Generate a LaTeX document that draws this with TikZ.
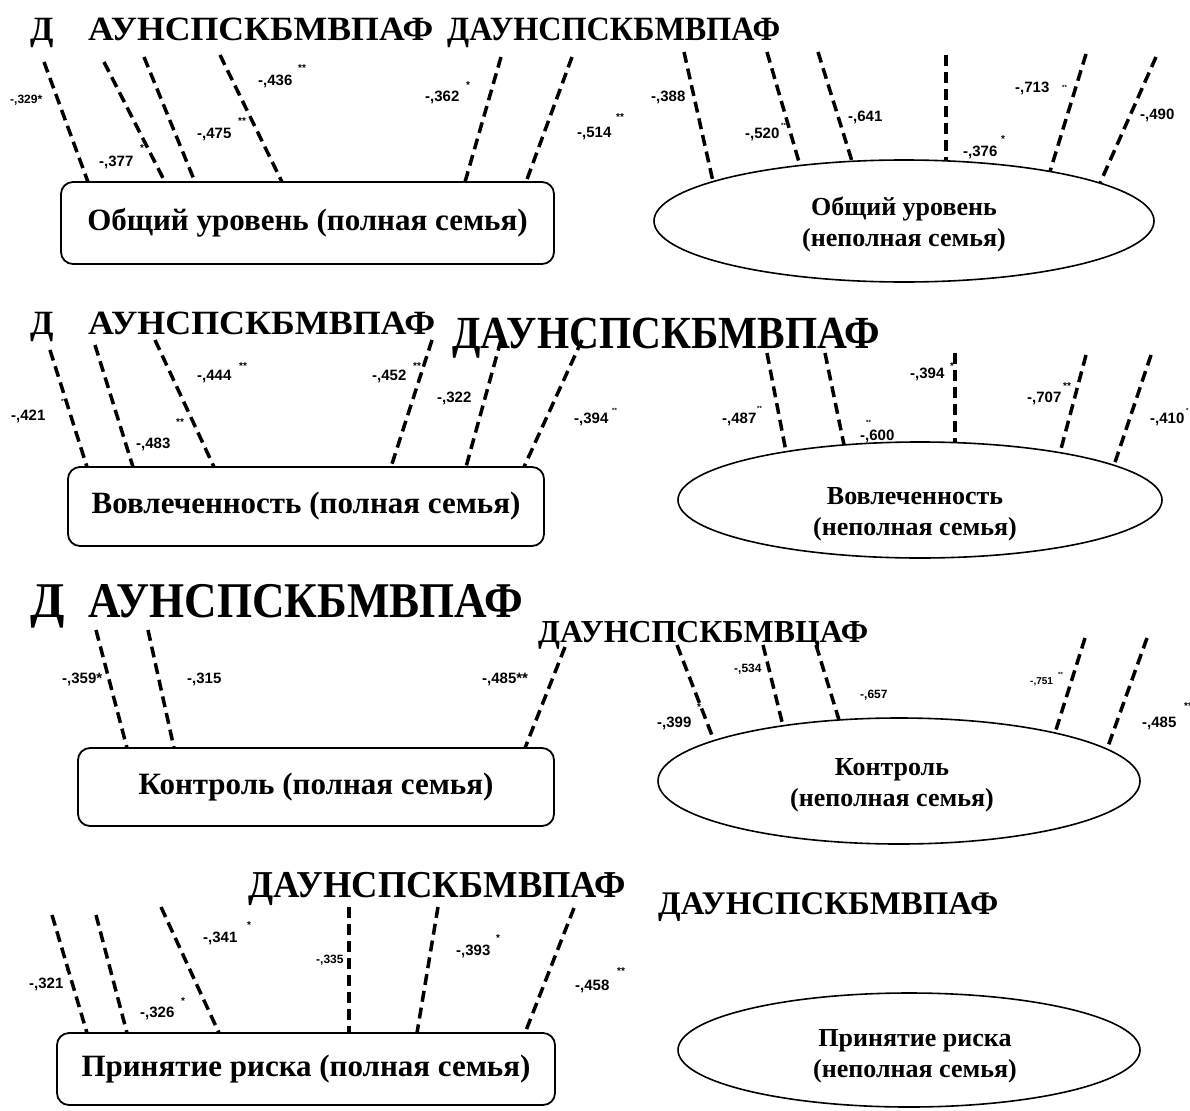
\documentclass[tikz,border=0pt]{standalone}
\usepackage{fontspec}
\usepackage{graphicx}
\setmainfont{Liberation Serif}
\newfontfamily\arialf{Liberation Sans}
\usetikzlibrary{shapes.geometric}
\newcommand{\hdr}[3]{\resizebox{#1pt}{\height}{\fontsize{#2}{#2}\selectfont\bfseries #3}}
\newcommand{\ecoord}[6]{\coordinate (#1) at ({#6},{#3-#5*sqrt(1-((#6-#2)/#4)^2)});}
\tikzset{
  dl/.style={line width=3.5pt, dash pattern=on 11pt off 6pt},
  bx/.style={draw, line width=1.8pt, rounded corners=12pt, inner sep=0, outer sep=0, font=\bfseries\fontsize{31}{31}\selectfont},
  el/.style={draw, ellipse, line width=1.6pt, inner sep=0, outer sep=0},
  etx/.style={align=center, inner sep=0, font=\bfseries\fontsize{26}{31}\selectfont},
  lb/.style={anchor=base west, inner sep=0, font=\arialf\bfseries\fontsize{15}{15}\selectfont},
  lbs/.style={anchor=base west, inner sep=0, font=\arialf\bfseries\fontsize{12}{12}\selectfont},
  lbt/.style={anchor=base west, inner sep=0, font=\arialf\bfseries\fontsize{10}{10}\selectfont},
  st/.style={anchor=base west, inner sep=0, font=\arialf\bfseries\fontsize{10}{10}\selectfont},
  stt/.style={anchor=base west, inner sep=0, font=\arialf\bfseries\fontsize{6}{6}\selectfont},
  hd/.style={anchor=base west, inner sep=0},
}
\begin{document}
\begin{tikzpicture}[x=1pt,y=-1pt]
\fill[white] (0,0) rectangle (1190,1110);
\useasboundingbox (0,0) rectangle (1190,1110);

% ---------------- Row 1 ----------------
\node[hd] (h1a) at (30,41) {\fontsize{34}{34}\selectfont\bfseries Д};
\node[hd] (h1b) at (88,41) {\hdr{345}{34}{АУНСПСКБМВПАФ}};
\node[hd] (h1c) at (447,41) {\hdr{333}{34}{ДАУНСПСКБМВПАФ}};

\node[bx, minimum width=493pt, minimum height=82pt] (B1) at (307.5,223) {Общий уровень (полная семья)};
\node[el, minimum width=500pt, minimum height=122pt] (E1) at (904,221) {};
\node[etx] (E1t) at (904,224.5) {Общий уровень\\(неполная семья)};

\coordinate (a1) at (44,62);  \coordinate (a2) at (104,62); \coordinate (a3) at (144,57);
\coordinate (a4) at (220,55); \coordinate (a5) at (501,57); \coordinate (a6) at (572,57);
\draw[dl] (a1) -- (88,0 |- B1.north);
\draw[dl] (a2) -- (165,0 |- B1.north);
\draw[dl] (a3) -- (195,0 |- B1.north);
\draw[dl] (a4) -- (282,0 |- B1.north);
\draw[dl] (a5) -- (465,0 |- B1.north);
\draw[dl] (a6) -- (526,0 |- B1.north);

\coordinate (b1) at (684,52); \coordinate (b2) at (767,52); \coordinate (b3) at (818,52);
\coordinate (b4) at (946,55); \coordinate (b5) at (1086,54); \coordinate (b6) at (1156,57);
\ecoord{e1a}{904}{221}{250}{61}{713}
\ecoord{e1b}{904}{221}{250}{61}{800}
\ecoord{e1c}{904}{221}{250}{61}{852}
\ecoord{e1d}{904}{221}{250}{61}{946}
\ecoord{e1e}{904}{221}{250}{61}{1050}
\ecoord{e1f}{904}{221}{250}{61}{1100}
\draw[dl] (b1) -- (e1a); \draw[dl] (b2) -- (e1b); \draw[dl] (b3) -- (e1c);
\draw[dl] (b4) -- (e1d); \draw[dl] (b5) -- (e1e); \draw[dl] (b6) -- (e1f);

\node[lbs] (l101) at (10,104) {-,329*};
\node[lb] (l102) at (99,167) {-,377};   \node[st] (s102) at (140,152) {*};
\node[lb] (l103) at (197,139) {-,475};  \node[st] (s103) at (238,125) {**};
\node[lb] (l104) at (258,86) {-,436};   \node[st] (s104) at (298,72) {**};
\node[lb] (l105) at (425,102) {-,362};  \node[st] (s105) at (466,89) {*};
\node[lb] (l106) at (577,138) {-,514};  \node[st] (s106) at (616,121) {**};
\node[lb] (l107) at (651,102) {-,388};  \node[stt] (s107) at (690,92) {*};
\node[lb] (l108) at (745,139) {-,520};  \node[stt] (s108) at (781,128) {**};
\node[lb] (l109) at (848,122) {-,641};
\node[lb] (l110) at (963,157) {-,376};  \node[st] (s110) at (1001,143) {*};
\node[lb] (l111) at (1015,93) {-,713};  \node[stt] (s111) at (1062,90) {**};
\node[lb] (l112) at (1140,120) {-,490};

% ---------------- Row 2 ----------------
\node[hd] (h2a) at (30,334) {\fontsize{34}{34}\selectfont\bfseries Д};
\node[hd] (h2b) at (88,334) {\hdr{347}{34}{АУНСПСКБМВПАФ}};
\node[hd] (h2c) at (452,348) {\hdr{428}{46}{ДАУНСПСКБМВПАФ}};

\node[bx, minimum width=476pt, minimum height=79pt] (B2) at (306,506.5) {Вовлеченность (полная семья)};
\node[el, minimum width=484pt, minimum height=116pt] (E2) at (920,500) {};
\node[etx] (E2t) at (915,514.5) {Вовлеченность\\(неполная семья)};

\coordinate (c1) at (50,350);  \coordinate (c2) at (95,345);  \coordinate (c3) at (155,340);
\coordinate (c4) at (432,340); \coordinate (c5) at (501,340); \coordinate (c6) at (582,340);
\draw[dl] (c1) -- (87,0 |- B2.north);
\draw[dl] (c2) -- (133,0 |- B2.north);
\draw[dl] (c3) -- (214,0 |- B2.north);
\draw[dl] (c4) -- (391,0 |- B2.north);
\draw[dl] (c5) -- (466,0 |- B2.north);
\draw[dl] (c6) -- (524,0 |- B2.north);

\coordinate (d1) at (767,353); \coordinate (d2) at (825,353); \coordinate (d3) at (955,353);
\coordinate (d4) at (1086,355); \coordinate (d5) at (1151,355);
\ecoord{e2a}{920}{500}{242}{58}{786}
\ecoord{e2b}{920}{500}{242}{58}{844}
\ecoord{e2c}{920}{500}{242}{58}{955}
\ecoord{e2d}{920}{500}{242}{58}{1060}
\ecoord{e2e}{920}{500}{242}{58}{1114}
\draw[dl] (d1) -- (e2a); \draw[dl] (d2) -- (e2b); \draw[dl] (d3) -- (e2c);
\draw[dl] (d4) -- (e2d); \draw[dl] (d5) -- (e2e);

\node[lb] (l201) at (11,420) {-,421};   \node[stt] (s201) at (61,403) {**};
\node[lb] (l202) at (136,448) {-,483};  \node[st] (s202) at (176,425) {**};
\node[lb] (l203) at (197,380) {-,444};  \node[st] (s203) at (239,369) {**};
\node[lb] (l204) at (372,380) {-,452};  \node[st] (s204) at (413,369) {**};
\node[lb] (l205) at (437,402) {-,322};
\node[lb] (l206) at (574,423) {-,394};  \node[stt] (s206) at (612,412) {**};
\node[lb] (l207) at (722,423) {-,487};  \node[stt] (s207) at (757,410) {**};
\node[lb] (l208) at (860,440) {-,600};  \node[stt] (s208) at (866,424) {**};
\node[lb] (l209) at (910,378) {-,394};  \node[st] (s209) at (950,369) {*};
\node[lb] (l210) at (1027,402) {-,707}; \node[st] (s210) at (1063,389) {**};
\node[lb] (l211) at (1150,423) {-,410}; \node[stt] (s211) at (1186,412) {*};

% ---------------- Row 3 ----------------
\node[hd] (h3a) at (30,617) {\fontsize{50}{50}\selectfont\bfseries Д};
\node[hd] (h3b) at (88,617) {\hdr{435}{50}{АУНСПСКБМВПАФ}};
\node[hd] (h3c) at (538,642) {\hdr{330}{32}{ДАУНСПСКБМВЦАФ}};

\node[bx, minimum width=476pt, minimum height=78pt] (B3) at (316,787) {Контроль (полная семья)};
\node[el, minimum width=482pt, minimum height=126pt] (E3) at (899,781) {};
\node[etx] (E3t) at (892,785.5) {Контроль\\(неполная семья)};

\coordinate (f1) at (96,630); \coordinate (f2) at (148,630); \coordinate (f3) at (565,647);
\draw[dl] (f1) -- (127,0 |- B3.north);
\draw[dl] (f2) -- (174,0 |- B3.north);
\draw[dl] (f3) -- (525,0 |- B3.north);

\coordinate (g1) at (677,645); \coordinate (g2) at (763,645); \coordinate (g3) at (816,645);
\coordinate (g4) at (1085,638); \coordinate (g5) at (1147,638);
\ecoord{e3a}{899}{781}{241}{63}{714}
\ecoord{e3b}{899}{781}{241}{63}{783}
\ecoord{e3c}{899}{781}{241}{63}{839}
\ecoord{e3d}{899}{781}{241}{63}{1055}
\ecoord{e3e}{899}{781}{241}{63}{1107}
\draw[dl] (g1) -- (e3a); \draw[dl] (g2) -- (e3b); \draw[dl] (g3) -- (e3c);
\draw[dl] (g4) -- (e3d); \draw[dl] (g5) -- (e3e);

\node[lb] (l301) at (62,683) {-,359*};
\node[lb] (l302) at (187,683) {-,315};
\node[lb] (l303) at (482,683) {-,485**};
\node[lb] (l304) at (657,727) {-,399};   \node[st] (s304) at (697,710) {*};
\node[lbs] (l305) at (734,672) {-,534};
\node[lbs] (l306) at (860,698) {-,657};
\node[lbt] (l307) at (1030,684) {-,751}; \node[stt] (s307) at (1058,676) {**};
\node[lb] (l308) at (1142,727) {-,485};  \node[st] (s308) at (1184,709) {**};

% ---------------- Row 4 ----------------
\node[hd] (h4a) at (248,897) {\hdr{378}{38}{ДАУНСПСКБМВПАФ}};
\node[hd] (h4b) at (658,914) {\hdr{340}{33}{ДАУНСПСКБМВПАФ}};

\node[bx, minimum width=498pt, minimum height=72pt] (B4) at (306,1069) {Принятие риска (полная семья)};
\node[el, minimum width=462pt, minimum height=114pt] (E4) at (909,1050) {};
\node[etx] (E4t) at (915,1056) {Принятие риска\\(неполная семья)};

\coordinate (k1) at (52,915);  \coordinate (k2) at (96,915);  \coordinate (k3) at (161,907);
\coordinate (k4) at (349,907); \coordinate (k5) at (438,907); \coordinate (k6) at (574,908);
\draw[dl] (k1) -- (87,0 |- B4.north);
\draw[dl] (k2) -- (127,0 |- B4.north);
\draw[dl] (k3) -- (219,0 |- B4.north);
\draw[dl] (k4) -- (349,0 |- B4.north);
\draw[dl] (k5) -- (417,0 |- B4.north);
\draw[dl] (k6) -- (525,0 |- B4.north);

\node[lb] (l401) at (29,988) {-,321};   \node[stt] (s401) at (66,973) {*};
\node[lb] (l402) at (140,1017) {-,326}; \node[st] (s402) at (181,1004) {*};
\node[lb] (l403) at (203,942) {-,341};  \node[st] (s403) at (247,928) {*};
\node[lbs] (l404) at (316,963) {-,335};
\node[lb] (l405) at (456,955) {-,393};  \node[st] (s405) at (496,941) {*};
\node[lb] (l406) at (575,990) {-,458};  \node[st] (s406) at (617,974) {**};
\end{tikzpicture}
\end{document}
